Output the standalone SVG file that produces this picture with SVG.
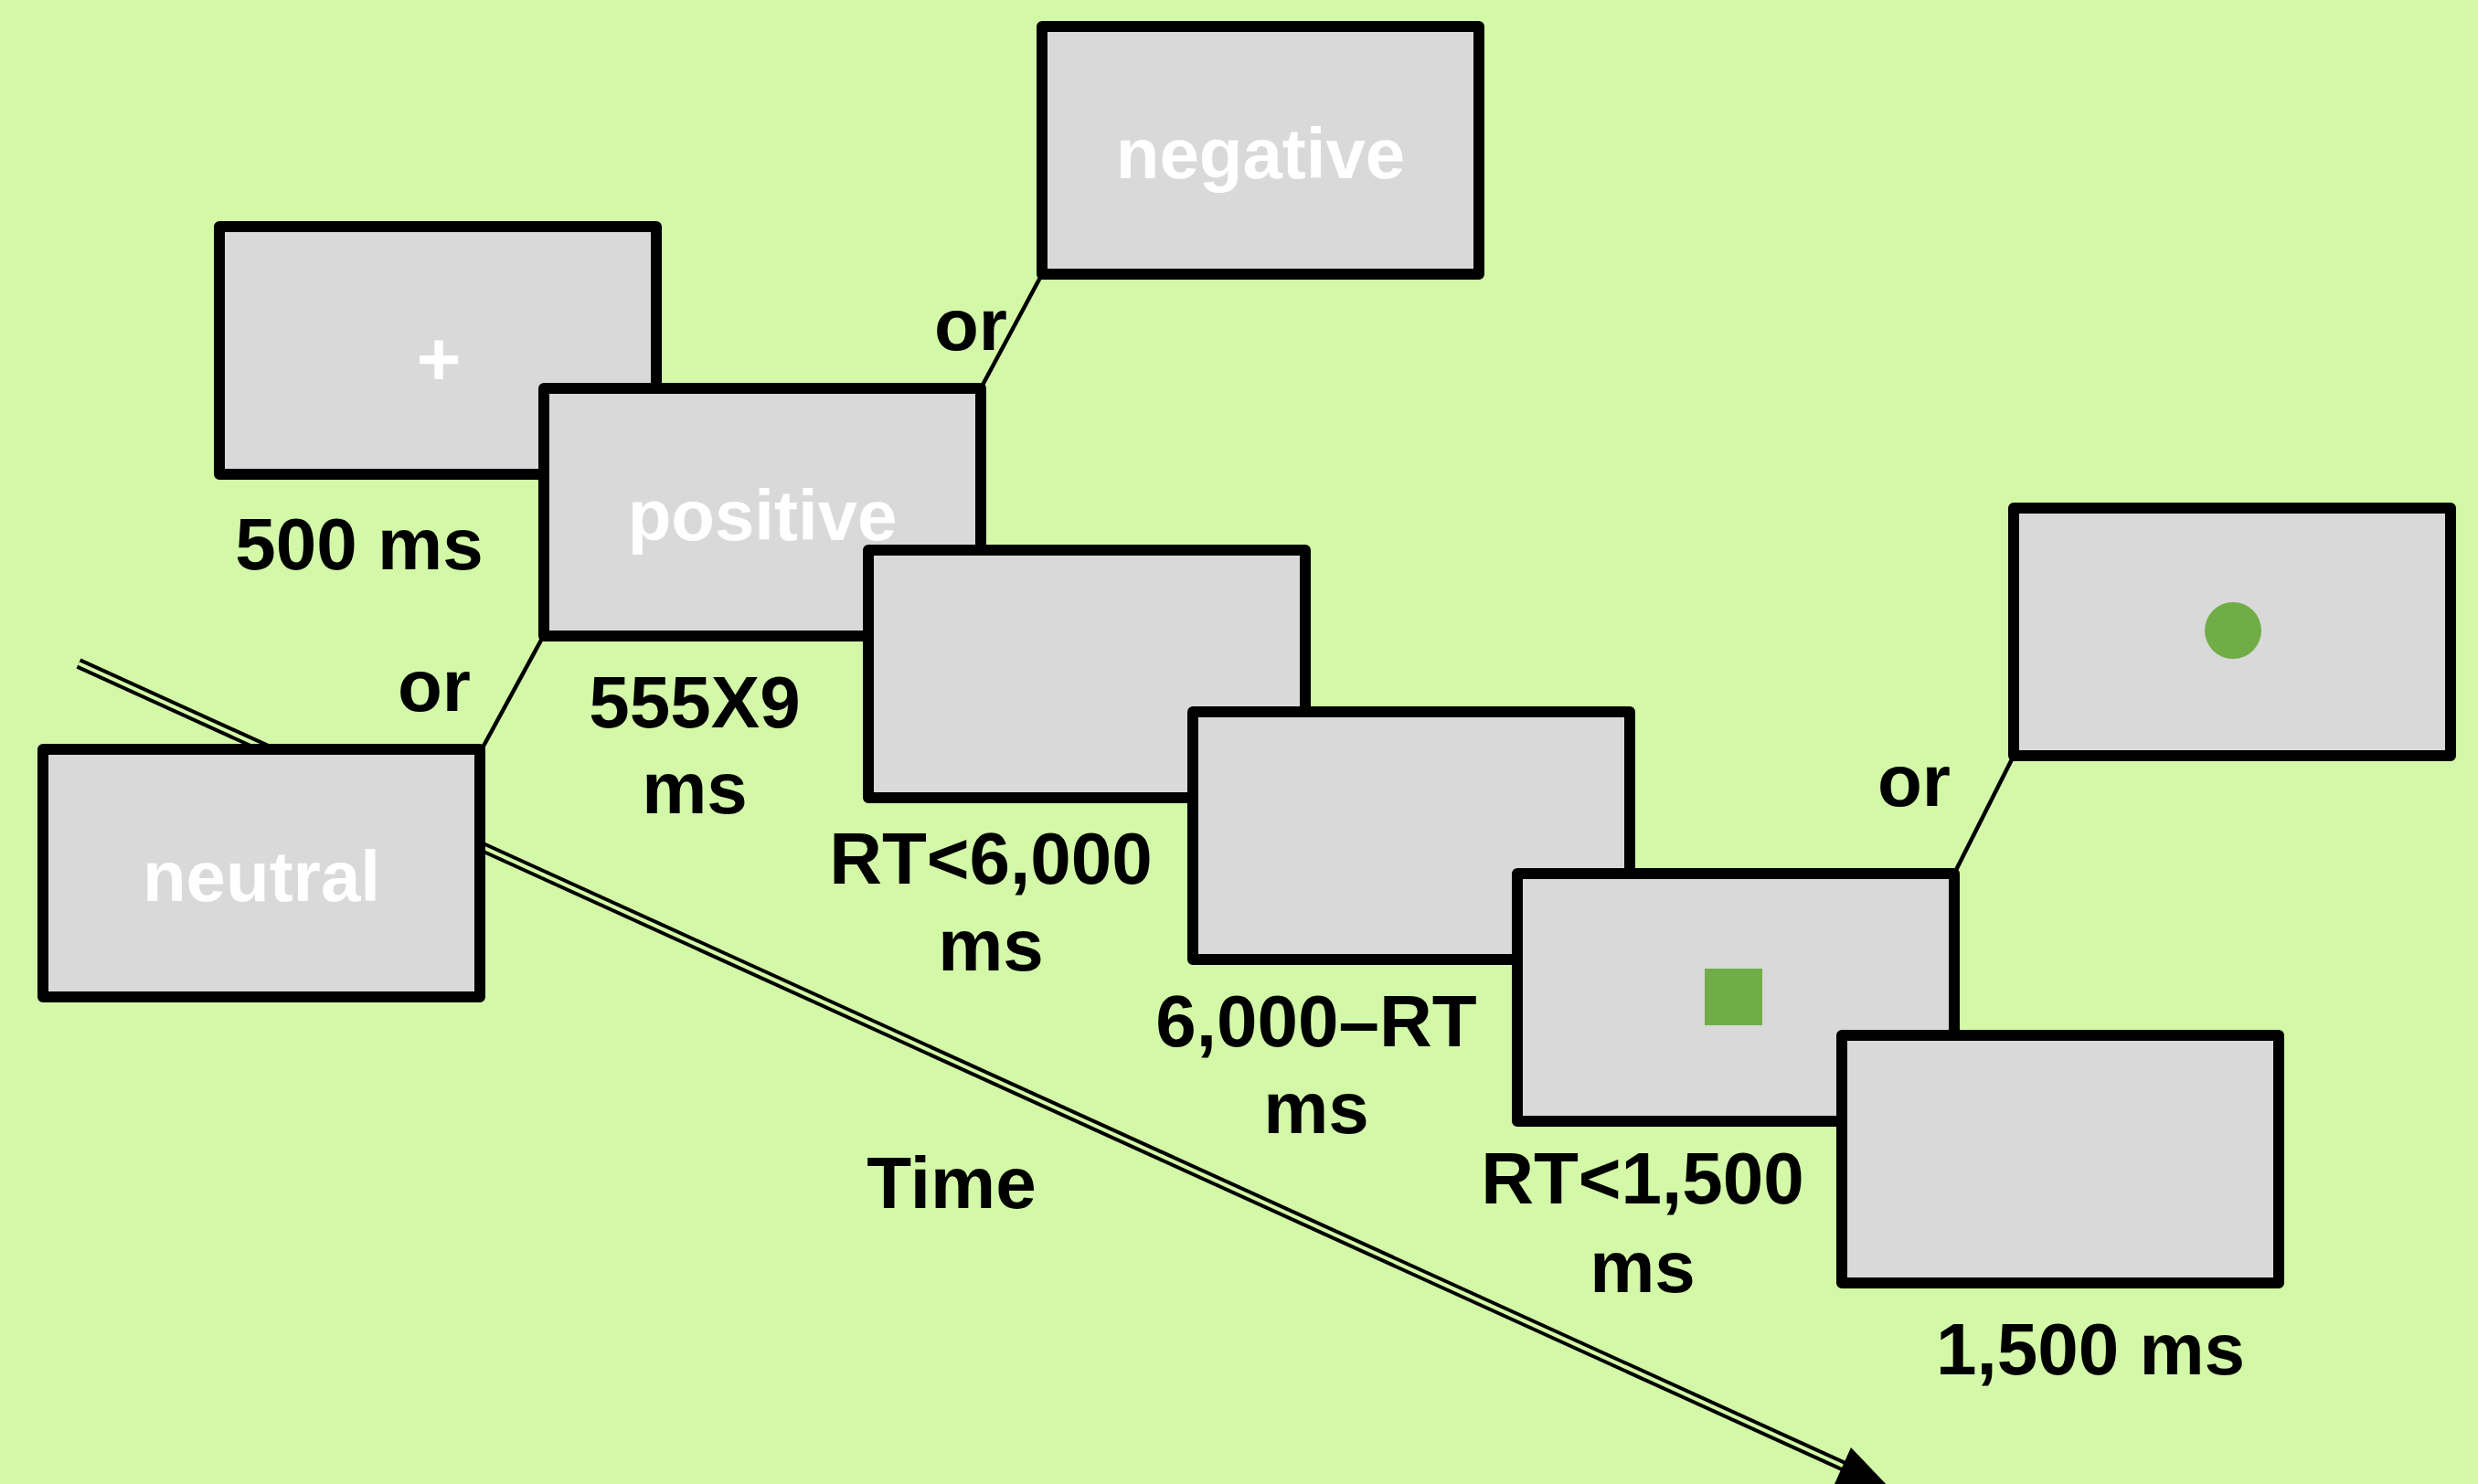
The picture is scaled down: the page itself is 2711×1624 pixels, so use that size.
<svg xmlns="http://www.w3.org/2000/svg" width="2711" height="1624" viewBox="0 0 2711 1624">
<style>
.box{fill:#D9D9D9;stroke:#000;stroke-width:12;stroke-linejoin:round}
.lbl{font-family:"Liberation Sans",Arial,sans-serif;font-weight:bold;font-size:80px;fill:#000;text-anchor:middle}
.wt{font-family:"Liberation Sans",Arial,sans-serif;font-weight:bold;font-size:78px;fill:#fff;text-anchor:middle}
.or{stroke:#000;stroke-width:4.5;fill:none}
.tl{stroke:#000;stroke-width:12;fill:none}
.tg{stroke:#D3F9A8;stroke-width:4;fill:none}
.stim{fill:#70AD47}
</style>
<rect x="0" y="0" width="2711" height="1624" fill="#D3F9A8"/>
<g id="connectors">
<line class="tl" x1="86" y1="726" x2="2018" y2="1605"/>
<line class="tg" x1="86" y1="726" x2="2018" y2="1605"/>
<polygon points="2025,1584 2066,1627 2007,1624" fill="#000"/>
<line class="or" x1="1073" y1="425" x2="1140" y2="300"/>
<line class="or" x1="595" y1="695" x2="527" y2="820"/>
<line class="or" x1="2138" y1="956" x2="2203" y2="827"/>
</g>
<g id="fixation">
<rect class="box" x="240" y="248" width="478" height="271"/>
<text class="wt" x="480" y="422" style="font-size:84px">+</text>
</g>
<g id="negative">
<rect class="box" x="1140" y="29" width="478" height="271"/>
<text class="wt" x="1379" y="195">negative</text>
</g>
<g id="positive">
<rect class="box" x="595" y="425" width="478" height="271"/>
<text class="wt" x="834" y="591">positive</text>
</g>
<g id="neutral">
<rect class="box" x="47" y="820" width="478" height="271"/>
<text class="wt" x="286" y="986">neutral</text>
</g>
<g id="blank1">
<rect class="box" x="950" y="602" width="478" height="271"/>
</g>
<g id="blank2">
<rect class="box" x="1305" y="779" width="478" height="271"/>
</g>
<g id="square">
<rect class="box" x="1660" y="956" width="478" height="271"/>
<rect class="stim" x="1865" y="1060" width="63" height="62"/>
</g>
<g id="circle">
<rect class="box" x="2203" y="556" width="478" height="271"/>
<circle class="stim" cx="2443" cy="690" r="31"/>
</g>
<g id="blank3">
<rect class="box" x="2015" y="1133" width="478" height="271"/>
</g>
<g id="labels">
<text class="lbl" x="393" y="623">500 ms</text>
<text class="lbl" x="1062" y="383">or</text>
<text class="lbl" x="475" y="778">or</text>
<text class="lbl" x="760" y="796">555X9</text>
<text class="lbl" x="760" y="890">ms</text>
<text class="lbl" x="1084" y="967">RT&lt;6,000</text>
<text class="lbl" x="1084" y="1062">ms</text>
<text class="lbl" x="1440" y="1145">6,000–RT</text>
<text class="lbl" x="1440" y="1240">ms</text>
<text class="lbl" x="2094" y="882">or</text>
<text class="lbl" x="1797" y="1317">RT&lt;1,500</text>
<text class="lbl" x="1797" y="1414">ms</text>
<text class="lbl" x="2287" y="1504">1,500 ms</text>
<text class="lbl" x="1041" y="1322">Time</text>
</g>
</svg>
